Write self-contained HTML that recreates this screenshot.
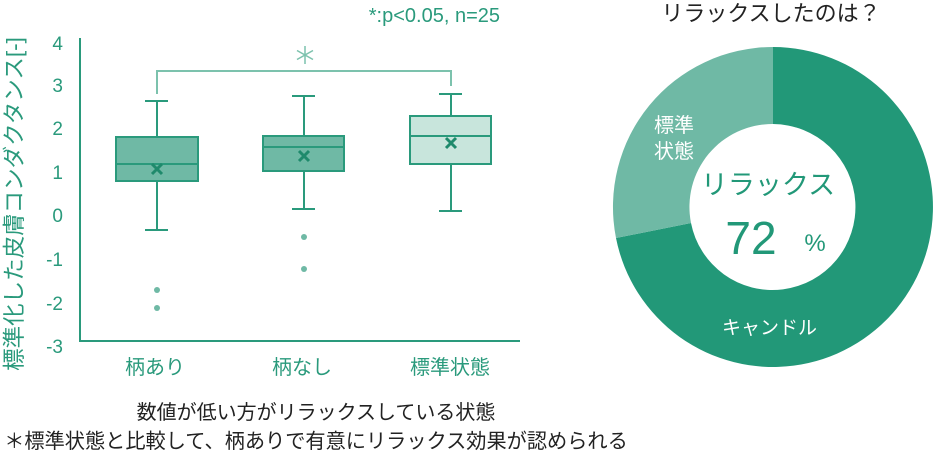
<!DOCTYPE html>
<html><head><meta charset="utf-8"><style>
html,body{margin:0;padding:0;background:#fff;}
svg{display:block;font-family:"Liberation Sans","Noto Sans CJK JP",sans-serif;}
</style></head><body>
<svg width="933" height="456" viewBox="0 0 933 456" xmlns="http://www.w3.org/2000/svg">
<g fill="#2a9a7c" font-size="19">
<text x="500" y="22" text-anchor="end" font-size="20">*:p&lt;0.05, n=25</text>
<g text-anchor="end">
<text x="63" y="50">4</text><text x="63" y="92">3</text><text x="63" y="135">2</text>
<text x="63" y="179">1</text><text x="63" y="222">0</text><text x="63" y="266">-1</text>
<text x="63" y="310">-2</text><text x="63" y="353">-3</text>
</g>
<text transform="translate(22,204) rotate(-90)" text-anchor="middle" font-size="22.5">標準化した皮膚コンダクタンス[-]</text>
<g font-size="20" text-anchor="middle">
<text x="155" y="374">柄あり</text><text x="302" y="374">柄なし</text><text x="450" y="374">標準状態</text>
</g>
</g>
<g stroke="#2a9a7c" stroke-width="2" fill="none">
<path d="M80 38V341H520"/>
</g>
<path d="M157 94V71H451V86" stroke="#7cc2ad" stroke-width="2" fill="none"/>
<g stroke="#7cc2ad" stroke-width="1.5">
<path d="M305 46V64M297 50.5L313 59.5M313 50.5L297 59.5"/>
</g>
<g stroke="#2a9a7c" stroke-width="2">
<path d="M157 101V137M145 101H168M157 181V230M145 230H168" fill="none"/>
<rect x="116" y="137" width="82" height="44" fill="#6fb9a5"/>
<path d="M116 164H198"/>
<path d="M304 96V136M292 96H315M304 171V209M292 209H315" fill="none"/>
<rect x="263" y="136" width="81" height="35" fill="#6fb9a5"/>
<path d="M263 147H344"/>
<path d="M451 94V116M439 94H462M451 164V211M439 211H462" fill="none"/>
<rect x="410" y="116" width="81" height="48" fill="#c8e5dc"/>
<path d="M410 136H491"/>
</g>
<g stroke="#1f8a6c" stroke-width="3">
<path d="M152 164L162 174M162 164L152 174"/>
<path d="M299 151L309 161M309 151L299 161"/>
<path d="M446 138L456 148M456 138L446 148"/>
</g>
<g fill="#6fb9a5">
<circle cx="157" cy="290" r="3"/><circle cx="157" cy="308" r="3"/>
<circle cx="304" cy="237" r="3"/><circle cx="304" cy="269" r="3"/>
</g>
<g fill="#222" font-size="20" text-anchor="middle">
<text x="316" y="419">数値が低い方がリラックスしている状態</text>
<text x="316" y="448" font-size="20.2">＊標準状態と比較して、柄ありで有意にリラックス効果が認められる</text>
</g>
<text x="771" y="21" fill="#222" font-size="22" text-anchor="middle">リラックスしたのは？</text>
<path d="M773 47 A160 160 0 1 1 616 238 L691 223 A83 83 0 1 0 773 124 Z" fill="#229878"/>
<path d="M616 238 A160 160 0 0 1 773 47 L773 124 A83 83 0 0 0 691 223 Z" fill="#6fb9a5"/>
<g fill="#fff" font-size="20">
<text x="654" y="132">標準</text><text x="654" y="158">状態</text>
<text x="722" y="334" font-size="19">キャンドル</text>
</g>
<g fill="#229878" text-anchor="middle">
<text x="768" y="194" font-size="27">リラックス</text>
<text x="751" y="254" font-size="46">72</text>
<text x="815" y="251" font-size="24">%</text>
</g>
</svg>
</body></html>
